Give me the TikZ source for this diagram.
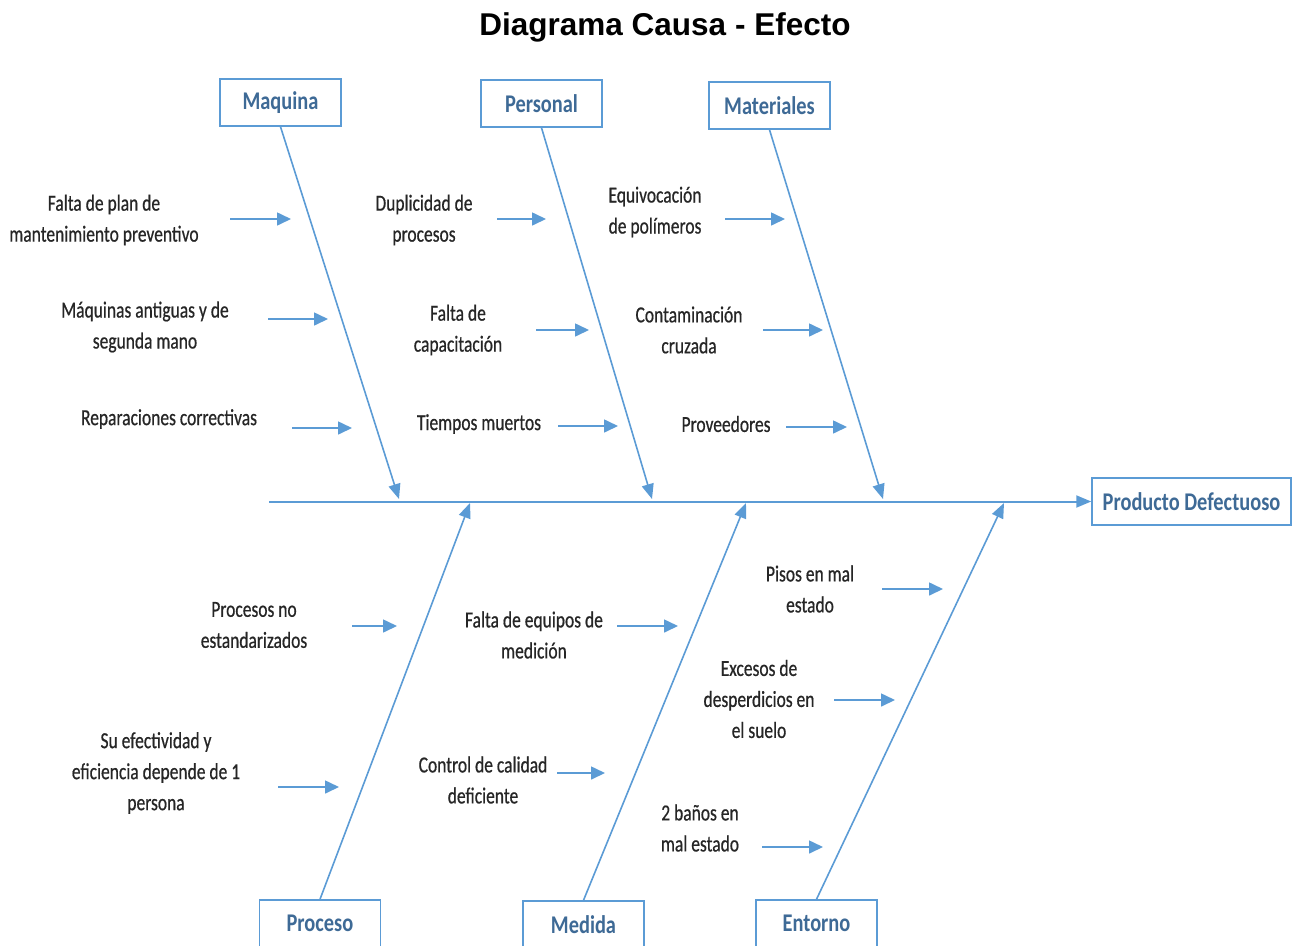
\documentclass[tikz,border=0pt]{standalone}
\usepackage{fontspec}
\setmainfont{Carlito}
\newfontfamily\causefont[FakeStretch=0.76,FakeBold=0.6]{Carlito}
\newfontfamily\catfont[FakeStretch=0.8]{Carlito}
\newfontfamily\titlefont{Liberation Sans}
\usetikzlibrary{arrows.meta}
\definecolor{bone}{RGB}{91,155,213}
\definecolor{cattext}{RGB}{62,106,150}
\begin{document}
\begin{tikzpicture}[x=1pt,y=-1pt,
  catbox/.style={draw=bone,line width=1.5pt,fill=white,minimum width=121pt,minimum height=47pt,inner sep=0pt,
    text=cattext,font=\catfont\bfseries\fontsize{25.5}{30}\selectfont},
  causetext/.style={align=center,inner sep=0pt,text=black!85,font=\causefont\fontsize{23}{31}\selectfont},
  bonearrow/.style={draw=bone,line width=1.6pt,-{Triangle[length=15pt,width=12pt]}},
  cause/.style={draw=bone,line width=1.6pt,-{Triangle[length=14pt,width=13pt]}}]
\useasboundingbox (0,0) rectangle (1292,945);
\node (title) at (665,27) {\titlefont\bfseries\fontsize{31.5}{36}\selectfont Diagrama Causa - Efecto};
% category boxes
\node[catbox] (maq) at (280.5,102.5) {Maquina};
\node[catbox] (per) at (541.5,103.5) {Personal};
\node[catbox] (mat) at (769.5,105.5) {Materiales};
\node[catbox] (pro) at (320,923.5) {Proceso};
\node[catbox] (med) at (583.5,924.5) {Medida};
\node[catbox] (ent) at (816.5,923.5) {Entorno};
\node[catbox,minimum width=199pt] (efecto) at (1191.5,501.5) {Producto Defectuoso};
% spine
\coordinate (tail) at (269,501.5);
\draw[bonearrow,line width=2pt] (tail) -- (efecto.west);
% bones
\coordinate (jmaq) at (399,499);
\coordinate (jper) at (652,499);
\coordinate (jmat) at (883,499);
\coordinate (jpro) at (470,503);
\coordinate (jmed) at (746,503);
\coordinate (jent) at (1004,503);
\draw[bonearrow] (maq.south) -- (jmaq);
\draw[bonearrow] (per.south) -- (jper);
\draw[bonearrow] (mat.south) -- (jmat);
\draw[bonearrow] (pro.north) -- (jpro);
\draw[bonearrow] (med.north) -- (jmed);
\draw[bonearrow] (ent.north) -- (jent);
% causes
\node[causetext] (c1) at (104,220) {Falta de plan de\\mantenimiento preventivo};
\node[causetext] (c2) at (145,327) {Máquinas antiguas y de\\segunda mano};
\node[causetext] (c3) at (169,419) {Reparaciones correctivas};
\node[causetext] (c4) at (424,220) {Duplicidad de\\procesos};
\node[causetext] (c5) at (458,330) {Falta de\\capacitación};
\node[causetext] (c6) at (479,424) {Tiempos muertos};
\node[causetext] (c7) at (655,212) {Equivocación\\de polímeros};
\node[causetext] (c8) at (689,330) {Contaminación\\cruzada};
\node[causetext] (c9) at (726,424) {Proveedores};
\node[causetext] (c10) at (254,625) {Procesos no\\estandarizados};
\node[causetext] (c11) at (156,773) {Su efectividad y\\eficiencia depende de 1\\persona};
\node[causetext] (c12) at (534,635) {Falta de equipos de\\medición};
\node[causetext] (c13) at (483,780) {Control de calidad\\deficiente};
\node[causetext] (c14) at (810,589) {Pisos en mal\\estado};
\node[causetext] (c15) at (759,699) {Excesos de\\desperdicios en\\el suelo};
\node[causetext] (c16) at (700,828) {2 baños en\\mal estado};
% small arrows
\foreach \n/\xa/\xb/\y in {1/230/291/219, 2/268/328/319, 3/292/352/428,
    4/497/546/219, 5/536/589/330, 6/558/618/426,
    7/725/785/219, 8/763/823/330, 9/786/847/427,
    10/352/397/626, 11/278/339/787,
    12/617/678/626, 13/557/605/773,
    14/882/943/589, 15/834/895/700, 16/762/823/847}{
  \coordinate (s\n) at (\xa,\y);
  \coordinate (e\n) at (\xb,\y);
  \draw[cause] (s\n) -- (e\n);
}
\end{tikzpicture}
\end{document}
